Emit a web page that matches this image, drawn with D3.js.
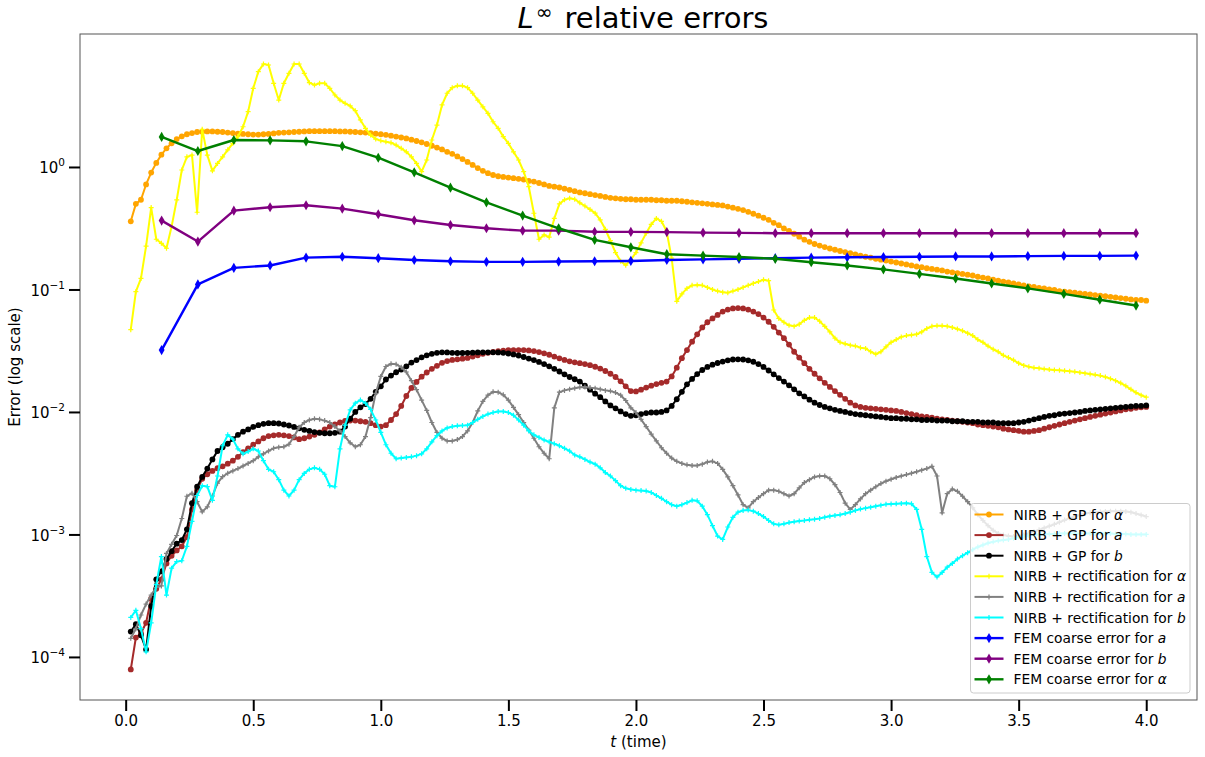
<!DOCTYPE html>
<html>
<head>
<meta charset="utf-8">
<script src="https://cdn.jsdelivr.net/npm/d3@7"></script>
<style>
  body { margin: 0; background: #fff; }
  text { font-family: "DejaVu Sans", sans-serif; }
</style>
</head>
<body>
<svg id="chart" width="1205" height="757"></svg>
<script>
// fine time grid (dt = 0.02)
var times = [
  0.02,0.04,0.06,0.08,0.10,0.12,0.14,0.16,0.18,0.20,
  0.22,0.24,0.26,0.28,0.30,0.32,0.34,0.36,0.38,0.40,
  0.42,0.44,0.46,0.48,0.50,0.52,0.54,0.56,0.58,0.60,
  0.62,0.64,0.66,0.68,0.70,0.72,0.74,0.76,0.78,0.80,
  0.82,0.84,0.86,0.88,0.90,0.92,0.94,0.96,0.98,1.00,
  1.02,1.04,1.06,1.08,1.10,1.12,1.14,1.16,1.18,1.20,
  1.22,1.24,1.26,1.28,1.30,1.32,1.34,1.36,1.38,1.40,
  1.42,1.44,1.46,1.48,1.50,1.52,1.54,1.56,1.58,1.60,
  1.62,1.64,1.66,1.68,1.70,1.72,1.74,1.76,1.78,1.80,
  1.82,1.84,1.86,1.88,1.90,1.92,1.94,1.96,1.98,2.00,
  2.02,2.04,2.06,2.08,2.10,2.12,2.14,2.16,2.18,2.20,
  2.22,2.24,2.26,2.28,2.30,2.32,2.34,2.36,2.38,2.40,
  2.42,2.44,2.46,2.48,2.50,2.52,2.54,2.56,2.58,2.60,
  2.62,2.64,2.66,2.68,2.70,2.72,2.74,2.76,2.78,2.80,
  2.82,2.84,2.86,2.88,2.90,2.92,2.94,2.96,2.98,3.00,
  3.02,3.04,3.06,3.08,3.10,3.12,3.14,3.16,3.18,3.20,
  3.22,3.24,3.26,3.28,3.30,3.32,3.34,3.36,3.38,3.40,
  3.42,3.44,3.46,3.48,3.50,3.52,3.54,3.56,3.58,3.60,
  3.62,3.64,3.66,3.68,3.70,3.72,3.74,3.76,3.78,3.80,
  3.82,3.84,3.86,3.88,3.90,3.92,3.94,3.96,3.98,4.00
];

// coarse time grid for the FEM errors
var timesCoarse = [0.141,0.283,0.424,0.566,0.707,0.849,0.990,1.131,1.273,1.414,
  1.556,1.697,1.838,1.980,2.121,2.263,2.404,2.546,2.687,2.828,
  2.970,3.111,3.253,3.394,3.536,3.677,3.818,3.960];

var gpAlpha = [
  0.36,0.50,0.54,0.72,0.90,1.08,1.26,1.42,1.56,1.69,
  1.78,1.85,1.89,1.93,1.94,1.95,1.95,1.94,1.93,1.91,
  1.89,1.87,1.86,1.85,1.84,1.84,1.85,1.86,1.88,1.90,
  1.91,1.92,1.93,1.94,1.95,1.96,1.96,1.96,1.96,1.96,
  1.96,1.95,1.95,1.94,1.93,1.92,1.91,1.89,1.87,1.85,
  1.83,1.80,1.77,1.74,1.71,1.67,1.63,1.59,1.54,1.49,
  1.44,1.39,1.33,1.28,1.22,1.16,1.10,1.04,0.98,0.93,
  0.89,0.86,0.84,0.83,0.82,0.81,0.80,0.79,0.77,0.76,
  0.74,0.72,0.70,0.69,0.68,0.665,0.65,0.635,0.62,0.61,
  0.60,0.59,0.58,0.57,0.56,0.555,0.55,0.545,0.545,0.54,
  0.54,0.54,0.54,0.535,0.535,0.53,0.53,0.53,0.525,0.52,
  0.515,0.51,0.505,0.50,0.495,0.49,0.485,0.475,0.465,0.455,
  0.445,0.43,0.415,0.40,0.385,0.37,0.35,0.335,0.315,0.30,
  0.285,0.27,0.255,0.245,0.235,0.228,0.222,0.216,0.211,0.206,
  0.202,0.198,0.193,0.189,0.185,0.182,0.178,0.175,0.172,0.169,
  0.166,0.163,0.160,0.157,0.154,0.152,0.149,0.147,0.145,0.143,
  0.140,0.138,0.136,0.134,0.132,0.130,0.127,0.125,0.123,0.120,
  0.118,0.116,0.114,0.112,0.110,0.108,0.106,0.105,0.103,0.102,
  0.100,0.099,0.097,0.096,0.095,0.094,0.093,0.092,0.091,0.090,
  0.089,0.088,0.087,0.086,0.085,0.084,0.083,0.082,0.082,0.081
];

var gpA = [
  7.9e-5,1.44e-4,1.56e-4,1.9e-4,3.0e-4,3.6e-4,4.3e-4,5.8e-4,6.7e-4,7.4e-4,
  8.0e-4,9.5e-4,1.6e-3,2.3e-3,2.85e-3,3.1e-3,3.3e-3,3.47e-3,3.6e-3,3.78e-3,
  4.0e-3,4.3e-3,4.7e-3,5.05e-3,5.4e-3,5.75e-3,6.1e-3,6.35e-3,6.45e-3,6.5e-3,
  6.45e-3,6.35e-3,6.2e-3,6.0e-3,6.1e-3,6.3e-3,6.5e-3,6.8e-3,7.2e-3,7.6e-3,
  7.9e-3,8.2e-3,8.45e-3,8.5e-3,8.5e-3,8.4e-3,8.3e-3,8.1e-3,7.8e-3,7.6e-3,
  7.8e-3,8.6e-3,9.6e-3,0.0112,0.0135,0.0157,0.0176,0.0194,0.021,0.0225,
  0.0238,0.0252,0.026,0.0266,0.0269,0.0272,0.0276,0.0283,0.029,0.0298,
  0.0304,0.0309,0.0313,0.0316,0.0319,0.032,0.032,0.032,0.0318,0.0314,
  0.0308,0.0301,0.0293,0.0283,0.0274,0.0266,0.0259,0.0254,0.025,0.0246,
  0.0241,0.0234,0.0226,0.0216,0.0205,0.0193,0.0178,0.0162,0.0148,0.0147,
  0.0152,0.0158,0.0164,0.0169,0.0173,0.0177,0.0195,0.023,0.0275,0.032,
  0.0375,0.043,0.049,0.054,0.058,0.062,0.066,0.0685,0.070,0.0705,
  0.070,0.0685,0.066,0.063,0.059,0.0545,0.0495,0.0445,0.040,0.0355,
  0.031,0.0278,0.025,0.0225,0.0205,0.0188,0.0173,0.016,0.0148,0.0138,
  0.0128,0.0119,0.0113,0.0110,0.0108,0.0107,0.0106,0.0105,0.0104,0.0103,
  0.0102,0.0100,0.0098,0.0096,0.0094,0.0092,0.0091,0.0090,0.0088,0.0087,
  0.0086,0.0085,0.0084,0.0083,0.0082,0.0081,0.0079,0.0078,0.0077,0.0076,
  0.0075,0.0073,0.0072,0.0071,0.0070,0.0069,0.0069,0.0070,0.0071,0.0073,
  0.0075,0.0077,0.0079,0.0081,0.0083,0.0085,0.0087,0.0089,0.0091,0.0093,
  0.0095,0.0097,0.0099,0.0101,0.0103,0.0105,0.0106,0.0108,0.0109,0.0110
];

var gpB = [
  1.61e-4,1.85e-4,1.5e-4,1.15e-4,2.6e-4,4.3e-4,5.0e-4,6.3e-4,7.3e-4,8.4e-4,
  9.0e-4,1.1e-3,1.8e-3,2.45e-3,2.95e-3,3.45e-3,4.1e-3,4.8e-3,5.15e-3,5.5e-3,
  6.0e-3,6.5e-3,6.9e-3,7.2e-3,7.55e-3,7.8e-3,8.0e-3,8.1e-3,8.1e-3,8.05e-3,
  7.9e-3,7.75e-3,7.55e-3,7.35e-3,7.15e-3,7.0e-3,6.85e-3,6.75e-3,6.7e-3,6.7e-3,
  6.75e-3,6.9e-3,7.6e-3,8.8e-3,1.0e-2,0.0109,0.0116,0.0128,0.0146,0.0162,
  0.0184,0.0198,0.0211,0.0222,0.0236,0.0253,0.0265,0.0279,0.029,0.0298,
  0.0304,0.0307,0.0306,0.0304,0.0303,0.0303,0.0304,0.0305,0.0306,0.0307,
  0.0307,0.0307,0.0306,0.0304,0.03,0.0295,0.0289,0.0281,0.0273,0.0265,
  0.0256,0.0246,0.0236,0.0225,0.0214,0.0203,0.0193,0.0185,0.0177,0.0164,
  0.0152,0.0141,0.0132,0.0122,0.0113,0.0107,0.0101,0.0096,0.0093,0.0094,
  0.0096,0.0098,0.0099,0.0099,0.0100,0.0103,0.0112,0.0127,0.0146,0.0168,
  0.0186,0.0204,0.0220,0.0233,0.0243,0.0251,0.0258,0.0264,0.0268,0.0269,
  0.0268,0.0264,0.0257,0.0246,0.0233,0.0218,0.0203,0.0189,0.0177,0.0165,
  0.0153,0.0142,0.0134,0.0126,0.0119,0.0114,0.0110,0.0107,0.0104,0.0102,
  0.0100,0.0098,0.0096,0.0095,0.0094,0.0093,0.0092,0.0091,0.0090,0.0089,
  0.0089,0.0088,0.0088,0.0087,0.0087,0.0086,0.0086,0.0086,0.0085,0.0085,
  0.0085,0.0084,0.0084,0.0084,0.0083,0.0083,0.0083,0.0082,0.0082,0.0082,
  0.0081,0.0081,0.0081,0.0081,0.0082,0.0083,0.0085,0.0087,0.0089,0.0091,
  0.0093,0.0094,0.0096,0.0097,0.0098,0.0099,0.0100,0.0102,0.0103,0.0104,
  0.0105,0.0106,0.0107,0.0108,0.0109,0.0110,0.0111,0.0112,0.0112,0.0113
];

var rectAlpha = [
  0.047,0.096,0.123,0.226,0.466,0.257,0.238,0.217,0.326,0.538,
  0.945,1.21,1.25,0.427,2.03,1.25,0.93,1.07,1.21,1.38,
  1.56,1.77,2.13,2.83,4.39,6.0,6.93,6.8,4.82,3.52,
  4.82,5.82,6.93,6.93,5.82,4.88,4.67,4.82,4.82,4.39,
  3.87,3.52,3.31,3.15,2.88,2.42,2.07,1.82,1.69,1.64,
  1.61,1.58,1.51,1.42,1.33,1.21,1.07,0.916,1.14,1.66,
  2.2,3.21,4.0,4.44,4.6,4.6,4.44,4.0,3.52,3.1,
  2.74,2.34,2.07,1.77,1.56,1.33,1.14,0.916,0.69,0.419,
  0.257,0.279,0.267,0.38,0.50,0.54,0.555,0.545,0.51,0.48,
  0.45,0.42,0.37,0.31,0.25,0.20,0.17,0.158,0.175,0.20,
  0.24,0.288,0.34,0.38,0.36,0.30,0.18,0.08,0.092,0.102,
  0.108,0.109,0.108,0.104,0.100,0.097,0.095,0.094,0.097,0.100,
  0.104,0.108,0.112,0.116,0.120,0.118,0.068,0.058,0.054,0.051,
  0.050,0.052,0.056,0.059,0.059,0.055,0.050,0.045,0.040,0.037,
  0.036,0.035,0.0345,0.0335,0.033,0.031,0.0297,0.031,0.034,0.037,
  0.039,0.041,0.042,0.0425,0.043,0.045,0.048,0.050,0.0506,0.0505,
  0.050,0.049,0.0475,0.046,0.044,0.042,0.039,0.037,0.0345,0.0325,
  0.031,0.029,0.0278,0.0265,0.025,0.024,0.0234,0.023,0.0227,0.0224,
  0.0222,0.022,0.0219,0.0217,0.0215,0.0213,0.021,0.0207,0.0204,0.0201,
  0.0198,0.0193,0.0187,0.018,0.0172,0.0163,0.0153,0.0144,0.0137,0.0132
];

var rectA = [
  1.42e-4,1.7e-4,2.2e-4,2.7e-4,3.2e-4,3.7e-4,3.8e-4,7.0e-4,8.3e-4,9.8e-4,
  1.35e-3,2.05e-3,2.17e-3,1.85e-3,1.53e-3,1.68e-3,2.06e-3,2.62e-3,2.96e-3,3.16e-3,
  3.3e-3,3.45e-3,3.62e-3,3.8e-3,4.0e-3,4.3e-3,4.55e-3,4.8e-3,5.05e-3,5.15e-3,
  5.2e-3,5.45e-3,6.3e-3,7.5e-3,8.2e-3,8.6e-3,8.8e-3,8.7e-3,8.5e-3,8.2e-3,
  7.6e-3,7.0e-3,6.3e-3,5.6e-3,5.2e-3,5.4e-3,6.3e-3,9.0e-3,0.0142,0.0195,
  0.0235,0.0247,0.0245,0.0232,0.0212,0.018,0.0152,0.0125,0.0103,8.2e-3,
  6.8e-3,6.1e-3,5.8e-3,5.8e-3,5.95e-3,6.3e-3,7.0e-3,8.2e-3,0.0102,0.0122,
  0.0137,0.0146,0.0145,0.0138,0.0125,0.0109,9.5e-3,8.2e-3,7.1e-3,6.1e-3,
  5.2e-3,4.6e-3,4.15e-3,0.0108,0.0145,0.015,0.0153,0.0156,0.0159,0.016,
  0.0158,0.0156,0.0153,0.015,0.0148,0.0144,0.0137,0.0124,0.0108,9.9e-3,
  8.7e-3,7.6e-3,6.6e-3,5.8e-3,5.1e-3,4.6e-3,4.2e-3,3.95e-3,3.8e-3,3.7e-3,
  3.65e-3,3.65e-3,3.75e-3,3.9e-3,3.95e-3,3.8e-3,3.4e-3,2.95e-3,2.5e-3,2.1e-3,
  1.75e-3,1.65e-3,1.85e-3,2.0e-3,2.15e-3,2.3e-3,2.3e-3,2.25e-3,2.15e-3,2.06e-3,
  2.15e-3,2.4e-3,2.65e-3,2.8e-3,2.95e-3,3.0e-3,3.0e-3,2.85e-3,2.55e-3,2.2e-3,
  1.8e-3,1.6e-3,1.75e-3,1.95e-3,2.15e-3,2.3e-3,2.45e-3,2.6e-3,2.72e-3,2.82e-3,
  2.92e-3,3.0e-3,3.08e-3,3.16e-3,3.25e-3,3.35e-3,3.45e-3,3.6e-3,3.0e-3,1.5e-3,
  2.15e-3,2.35e-3,2.25e-3,2.05e-3,1.85e-3,1.65e-3,1.45e-3,1.3e-3,1.18e-3,1.08e-3,
  1.02e-3,9.9e-4,9.7e-4,9.6e-4,9.7e-4,9.9e-4,1.02e-3,1.05e-3,1.09e-3,1.13e-3,
  1.17e-3,1.21e-3,1.26e-3,1.31e-3,1.36e-3,1.4e-3,1.44e-3,1.48e-3,1.5e-3,1.52e-3,
  1.53e-3,1.54e-3,1.55e-3,1.55e-3,1.55e-3,1.54e-3,1.52e-3,1.48e-3,1.44e-3,1.4e-3
];

var rectB = [
  2.1e-4,2.4e-4,1.7e-4,1.1e-4,1.9e-4,3.9e-4,6.6e-4,3.2e-4,5.3e-4,6.0e-4,
  6.1e-4,8.0e-4,1.28e-3,2.08e-3,2.5e-3,2.46e-3,1.9e-3,3.0e-3,5.3e-3,6.5e-3,
  6.0e-3,5.0e-3,4.55e-3,4.75e-3,5.0e-3,4.8e-3,4.0e-3,3.4e-3,3.25e-3,2.8e-3,
  2.3e-3,2.06e-3,2.3e-3,2.8e-3,3.15e-3,3.4e-3,3.5e-3,3.4e-3,3.1e-3,2.5e-3,
  2.45e-3,5.0e-3,7.8e-3,0.0104,0.0118,0.0125,0.0118,0.0105,8.6e-3,6.8e-3,
  5.4e-3,4.6e-3,4.15e-3,4.2e-3,4.25e-3,4.3e-3,4.4e-3,4.55e-3,5.0e-3,5.7e-3,
  6.4e-3,7.0e-3,7.4e-3,7.6e-3,7.7e-3,7.75e-3,7.8e-3,8.2e-3,8.7e-3,9.2e-3,
  9.6e-3,9.9e-3,0.0101,0.0101,9.9e-3,9.4e-3,8.6e-3,7.8e-3,7.0e-3,6.5e-3,
  6.2e-3,5.9e-3,5.7e-3,5.5e-3,5.3e-3,5.05e-3,4.8e-3,4.45e-3,4.3e-3,4.1e-3,
  3.9e-3,3.75e-3,3.5e-3,3.2e-3,3.0e-3,2.75e-3,2.5e-3,2.38e-3,2.33e-3,2.3e-3,
  2.28e-3,2.26e-3,2.2e-3,2.08e-3,1.97e-3,1.85e-3,1.75e-3,1.7e-3,1.75e-3,1.82e-3,
  1.9e-3,1.88e-3,1.7e-3,1.45e-3,1.18e-3,9.7e-4,9.1e-4,1.15e-3,1.38e-3,1.52e-3,
  1.57e-3,1.58e-3,1.55e-3,1.48e-3,1.4e-3,1.3e-3,1.22e-3,1.2e-3,1.22e-3,1.25e-3,
  1.27e-3,1.29e-3,1.3e-3,1.32e-3,1.33e-3,1.35e-3,1.38e-3,1.41e-3,1.43e-3,1.45e-3,
  1.48e-3,1.52e-3,1.57e-3,1.61e-3,1.64e-3,1.67e-3,1.7e-3,1.73e-3,1.76e-3,1.77e-3,
  1.78e-3,1.79e-3,1.8e-3,1.78e-3,1.6e-3,1.1e-3,6.6e-4,4.9e-4,4.5e-4,4.9e-4,
  5.4e-4,5.8e-4,6.3e-4,6.7e-4,7.1e-4,7.5e-4,7.9e-4,8.2e-4,8.5e-4,8.7e-4,
  8.9e-4,9.0e-4,9.1e-4,9.3e-4,9.5e-4,9.6e-4,9.8e-4,9.9e-4,1.0e-3,1.0e-3,
  1.01e-3,1.01e-3,1.02e-3,1.02e-3,1.02e-3,1.02e-3,1.02e-3,1.02e-3,1.02e-3,1.02e-3,
  1.02e-3,1.02e-3,1.02e-3,1.01e-3,1.01e-3,1.01e-3,1.0e-3,1.0e-3,1.0e-3,1.0e-3
];

var femA = [0.032,0.110,0.150,0.157,0.182,0.185,0.180,0.174,0.170,0.168,
  0.168,0.169,0.170,0.171,0.174,0.176,0.178,0.180,0.182,0.183,
  0.184,0.185,0.186,0.186,0.187,0.188,0.188,0.189];
var femB = [0.365,0.246,0.44,0.469,0.487,0.457,0.411,0.367,0.336,0.316,
  0.302,0.302,0.296,0.295,0.294,0.291,0.290,0.288,0.288,0.288,
  0.288,0.288,0.288,0.288,0.288,0.288,0.288,0.288];
var femAlpha = [1.76,1.35,1.66,1.65,1.62,1.48,1.19,0.905,0.678,0.515,
  0.401,0.316,0.254,0.221,0.194,0.189,0.184,0.178,0.167,0.157,
  0.146,0.134,0.123,0.112,0.102,0.092,0.0825,0.0739];

var xTicks = [0, 0.5, 1.0, 1.5, 2.0, 2.5, 3.0, 3.5, 4.0];
var yTicks = [1e-4, 1e-3, 1e-2, 1e-1, 1];

var series = [
  {name: "NIRB + GP for ", sym: "α", t: times, v: gpAlpha, color: "orange", mark: "dot"},
  {name: "NIRB + GP for ", sym: "a", t: times, v: gpA, color: "brown", mark: "dot"},
  {name: "NIRB + GP for ", sym: "b", t: times, v: gpB, color: "black", mark: "dot"},
  {name: "NIRB + rectification for ", sym: "α", t: times, v: rectAlpha, color: "yellow", mark: "plus"},
  {name: "NIRB + rectification for ", sym: "a", t: times, v: rectA, color: "gray", mark: "plus"},
  {name: "NIRB + rectification for ", sym: "b", t: times, v: rectB, color: "cyan", mark: "plus"},
  {name: "FEM coarse error for ", sym: "a", t: timesCoarse, v: femA, color: "blue", mark: "diamond"},
  {name: "FEM coarse error for ", sym: "b", t: timesCoarse, v: femB, color: "purple", mark: "diamond"},
  {name: "FEM coarse error for ", sym: "α", t: timesCoarse, v: femAlpha, color: "green", mark: "diamond"}
];

var plotL = 80, plotR = 1197, plotT = 34, plotB = 700;

var svg = d3.select("#chart");

var x = d3.scaleLinear().domain([-0.179, 4.199]).range([plotL, plotR]);
var y = d3.scaleLog().domain([4.45e-5, 12.18]).range([plotB, plotT]);

svg.append("defs").append("clipPath").attr("id", "plotclip")
   .append("rect").attr("x", plotL).attr("y", plotT)
   .attr("width", plotR - plotL).attr("height", plotB - plotT);

function drawMark(sel, kind, color) {
  if (kind == "dot") {
    sel.append("circle").attr("r", 2.9).attr("fill", color);
  } else if (kind == "plus") {
    sel.append("path").attr("d", "M-2.5,0H2.5M0,-2.5V2.5")
       .attr("stroke", color).attr("stroke-width", 1.2).attr("fill", "none");
  } else {
    sel.append("path").attr("d", d3.symbol(d3.symbolDiamond, 30)())
       .attr("fill", color);
  }
}

var line = d3.line()
  .x(function(d) { return x(d[0]); })
  .y(function(d) { return y(d[1]); });

var plot = svg.append("g").attr("clip-path", "url(#plotclip)");

series.forEach(function(s) {
  var pts = d3.zip(s.t, s.v);
  var g = plot.append("g");
  g.append("path")
   .datum(pts)
   .attr("d", line)
   .attr("fill", "none")
   .attr("stroke", s.color)
   .attr("stroke-width", s.mark == "diamond" ? 2.4 : 2)
   .attr("stroke-linejoin", "round");
  g.selectAll("g.m")
   .data(pts)
   .enter()
   .append("g")
   .attr("class", "m")
   .attr("transform", function(d) { return "translate(" + x(d[0]) + "," + y(d[1]) + ")"; })
   .each(function() { drawMark(d3.select(this), s.mark, s.color); });
});

// frame
svg.append("rect")
   .attr("x", plotL).attr("y", plotT)
   .attr("width", plotR - plotL).attr("height", plotB - plotT)
   .attr("fill", "none").attr("stroke", "#555").attr("stroke-width", 1);

// x axis
var xAxis = svg.append("g")
  .attr("transform", "translate(0," + plotB + ")")
  .call(d3.axisBottom(x).tickValues(xTicks).tickSize(11).tickPadding(4)
        .tickFormat(d3.format(".1f")));
xAxis.select(".domain").remove();
xAxis.selectAll(".tick line").attr("stroke", "#000").attr("stroke-width", 2);
xAxis.selectAll(".tick text").attr("fill", "#000")
     .style("font-size", "15px").style("font-family", "DejaVu Sans");

// y axis
var yAxis = svg.append("g")
  .attr("transform", "translate(" + plotL + ",0)")
  .call(d3.axisLeft(y).tickValues(yTicks).tickSize(11).tickFormat(function() { return ""; }));
yAxis.select(".domain").remove();
yAxis.selectAll(".tick line").attr("stroke", "#000").attr("stroke-width", 2);
yAxis.selectAll(".tick").each(function(d) {
  var e = Math.round(Math.log10(d));
  var t = d3.select(this).append("text")
    .attr("x", -15).attr("y", 6)
    .attr("text-anchor", "end")
    .attr("fill", "#000")
    .style("font-size", "15px");
  t.append("tspan").text("10");
  t.append("tspan").attr("dy", -7).style("font-size", "10.5px")
   .text(e < 0 ? "\u2212" + (-e) : String(e));
});

// labels
var xl = svg.append("text")
  .attr("x", (plotL + plotR) / 2).attr("y", 747)
  .attr("text-anchor", "middle").style("font-size", "15px");
xl.append("tspan").style("font-style", "italic").text("t");
xl.append("tspan").text(" (time)");

svg.append("text")
  .attr("transform", "translate(19.5," + ((plotT + plotB) / 2) + ") rotate(-90)")
  .attr("text-anchor", "middle").style("font-size", "15px")
  .text("Error (log scale)");

var title = svg.append("text")
  .attr("x", 643).attr("y", 28)
  .attr("text-anchor", "middle").style("font-size", "29px");
title.append("tspan").style("font-style", "italic").text("L");
title.append("tspan").attr("dx", 2).attr("dy", -9).style("font-size", "20px").text("\u221e");
title.append("tspan").attr("dx", 3).attr("dy", 9).text(" relative errors");

// legend
var lgX = 970.5, lgY = 503.5, lgW = 219.5, lgH = 189.5, rowH = 20.6;
var lg = svg.append("g");
lg.append("rect")
  .attr("x", lgX).attr("y", lgY).attr("width", lgW).attr("height", lgH)
  .attr("rx", 3).attr("fill", "#fff").attr("fill-opacity", 0.8)
  .attr("stroke", "#ccc").attr("stroke-width", 1);

series.forEach(function(s, i) {
  var cy = lgY + 11 + i * rowH;
  var row = lg.append("g");
  row.append("line")
     .attr("x1", lgX + 4).attr("x2", lgX + 33)
     .attr("y1", cy).attr("y2", cy)
     .attr("stroke", s.color).attr("stroke-width", s.mark == "diamond" ? 2.4 : 2);
  var m = row.append("g").attr("transform", "translate(" + (lgX + 18.5) + "," + cy + ")");
  drawMark(m, s.mark, s.color);
  var tx = row.append("text")
     .attr("x", lgX + 43).attr("y", cy + 5)
     .style("font-size", "13.8px").attr("fill", "#000");
  tx.append("tspan").text(s.name);
  tx.append("tspan").style("font-style", "italic").text(s.sym);
});
</script>
</body>
</html>
